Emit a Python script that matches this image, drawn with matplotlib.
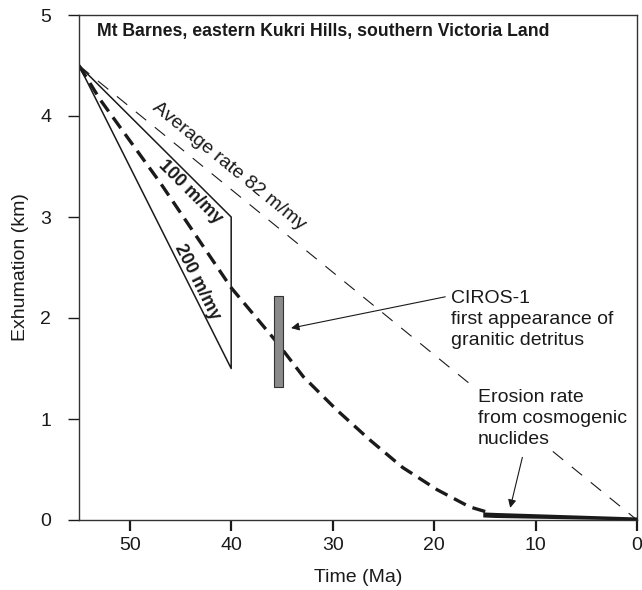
import matplotlib
matplotlib.use("Agg")
import matplotlib.pyplot as plt
import numpy as np

plt.rcParams['font.family'] = ['Liberation Sans', 'DejaVu Sans']

# ---- data ----
start_t, start_z = 55, 4.5
avg_t = [55, 0]
avg_z = [4.5, 0.0]
tri_t = [55, 40, 40, 55]
tri_z = [4.5, 3.0, 1.5, 4.5]
curve_t = [55, 52.9, 47, 40, 35.5, 32.9, 29.6, 26.3, 23.1, 19.7, 16.5, 14.5]
curve_z = [4.5, 4.16, 3.34, 2.30, 1.76, 1.42, 1.09, 0.79, 0.52, 0.30, 0.13, 0.07]
ciros_t = 35.35
ciros_width = 0.9
ciros_bottom = 1.32
ciros_top = 2.22
erosion_t = [15.2, 14.0, 0]
erosion_top = [0.08, 0.075, 0.03]
erosion_bot = [0.03, 0.025, 0.0]
xticks = [50, 40, 30, 20, 10, 0]
yticks = [0, 1, 2, 3, 4, 5]

fig = plt.figure(figsize=(6.42, 5.90), dpi=100)
ax = fig.add_axes([79/642, 1-520/590, (637-79)/642, (520-15)/590])
ax.set_xlim(55, 0)
ax.set_ylim(0, 5)

ink = '#1a1a1a'
ax.plot(avg_t, avg_z, color=ink, lw=0.8, dashes=(12, 10))
ax.plot(tri_t, tri_z, color=ink, lw=1.1)
ax.plot(curve_t, curve_z, color=ink, lw=2.4, dashes=(4.0, 2.2))
ax.bar([ciros_t], [ciros_top - ciros_bottom], bottom=ciros_bottom, width=ciros_width,
       color='#8a8a8a', edgecolor='#333333', lw=0.8, zorder=3)
ax.fill_between(erosion_t, erosion_bot, erosion_top, color=ink, lw=0, zorder=4)

# annotations
ax.annotate('', xy=(34.1, 1.90), xytext=(18.9, 2.21),
            arrowprops=dict(arrowstyle='-|>', color=ink, lw=0.8,
                            mutation_scale=12, shrinkA=0, shrinkB=0))
ax.annotate('', xy=(12.5, 0.12), xytext=(11.3, 0.62),
            arrowprops=dict(arrowstyle='-|>', color=ink, lw=0.8,
                            mutation_scale=12, shrinkA=0, shrinkB=0))

ax.text(18.3, 2.28, 'CIROS-1\nfirst appearance of\ngranitic detritus',
        fontsize=14, color=ink, ha='left', va='top', linespacing=1.3, zorder=5)
ax.text(15.7, 1.30, 'Erosion rate\nfrom cosmogenic\nnuclides',
        fontsize=14, color=ink, ha='left', va='top', linespacing=1.3, zorder=5,
        bbox=dict(facecolor='white', edgecolor='none', pad=1.0))

ax.text(40.2, 3.50, 'Average rate 82 m/my', fontsize=14, color=ink,
        rotation=-39.2, rotation_mode='anchor', ha='center', va='center')
ax.text(44.06, 3.25, '100 m/my', fontsize=13, fontweight='bold', color=ink,
        rotation=-44.9, rotation_mode='anchor', ha='center', va='center')
ax.text(43.37, 2.36, '200 m/my', fontsize=13, fontweight='bold', color=ink,
        rotation=-63.3, rotation_mode='anchor', ha='center', va='center')

ax.text((97-79)/(637-79), 0.985, 'Mt Barnes, eastern Kukri Hills, southern Victoria Land',
        transform=ax.transAxes, fontsize=12.7, fontweight='bold', color=ink,
        ha='left', va='top')

ax.set_xticks(xticks)
ax.set_yticks(yticks)
ax.tick_params(axis='x', direction='out', length=8, width=1.6, pad=4,
               labelsize=14, colors=ink)
ax.tick_params(axis='y', direction='out', length=8, width=1.0, pad=12,
               labelsize=14, colors=ink)
for s in ax.spines.values():
    s.set_linewidth(1.0)
    s.set_color('#333333')

ax.set_xlabel('Time (Ma)', fontsize=14, color=ink, labelpad=11)
ax.set_ylabel('Exhumation (km)', fontsize=14, color=ink, labelpad=8)

fig.savefig('out.png', dpi=100)
